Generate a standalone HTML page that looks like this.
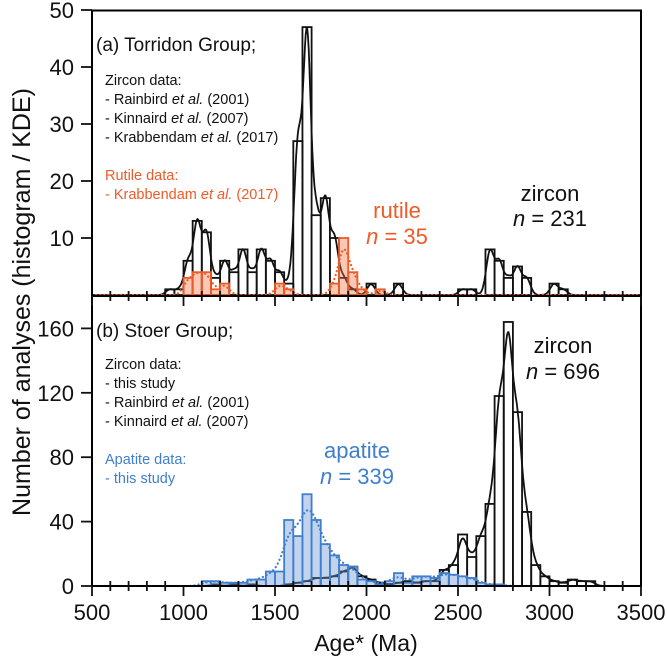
<!DOCTYPE html>
<html><head><meta charset="utf-8">
<style>
html,body{margin:0;padding:0;background:#fff;}
svg{display:block;font-family:"Liberation Sans",sans-serif;}
</style></head>
<body>
<svg id="chart" width="667" height="665" viewBox="0 0 667 665" xmlns="http://www.w3.org/2000/svg">
  <g id="marks"></g>
  <rect x="92" y="10.5" width="549" height="575.5" fill="none" stroke="#000" stroke-width="2"/>
  <line x1="92" y1="296" x2="641" y2="296" stroke="#000" stroke-width="2"/>
  <g id="axes"></g>
  <text transform="translate(30,302) rotate(-90)" text-anchor="middle" font-size="25" fill="#111">Number of analyses (histogram / KDE)</text>
  <text x="366" y="651" text-anchor="middle" font-size="23" fill="#111">Age* (Ma)</text>

  <g font-size="14.5" fill="#111">
    <text x="96" y="51" font-size="19">(a) Torridon Group;</text>
    <text x="105" y="85">Zircon data:</text>
    <text x="105" y="104">- Rainbird <tspan font-style="italic">et al.</tspan> (2001)</text>
    <text x="105" y="123">- Kinnaird <tspan font-style="italic">et al.</tspan> (2007)</text>
    <text x="105" y="142">- Krabbendam <tspan font-style="italic">et al.</tspan> (2017)</text>
    <text x="105" y="180" fill="#f05a28">Rutile data:</text>
    <text x="105" y="199" fill="#f05a28">- Krabbendam <tspan font-style="italic">et al.</tspan> (2017)</text>
  </g>
  <g font-size="14.5" fill="#111">
    <text x="96" y="337" font-size="19">(b) Stoer Group;</text>
    <text x="105" y="369">Zircon data:</text>
    <text x="105" y="388">- this study</text>
    <text x="105" y="407">- Rainbird <tspan font-style="italic">et al.</tspan> (2001)</text>
    <text x="105" y="426">- Kinnaird <tspan font-style="italic">et al.</tspan> (2007)</text>
    <text x="105" y="464" fill="#3f7fcf">Apatite data:</text>
    <text x="105" y="483" fill="#3f7fcf">- this study</text>
  </g>
  <g font-size="22" text-anchor="middle">
    <text x="397" y="218" fill="#f05a28">rutile</text>
    <text x="397" y="244" fill="#f05a28"><tspan font-style="italic">n</tspan> = 35</text>
    <text x="550" y="201" fill="#111">zircon</text>
    <text x="550" y="226" fill="#111"><tspan font-style="italic">n</tspan> = 231</text>
    <text x="563" y="353" fill="#111">zircon</text>
    <text x="563" y="379" fill="#111"><tspan font-style="italic">n</tspan> = 696</text>
    <text x="357" y="458" fill="#3f7fcf">apatite</text>
    <text x="357" y="484" fill="#3f7fcf"><tspan font-style="italic">n</tspan> = 339</text>
  </g>
</svg>
<script>
const binWidth = 50;
const zirconTopBins = [900,950,1000,1050,1100,1150,1200,1250,1300,1350,1400,1450,1500,1550,1600,1650,1700,1750,1800,1850,1900,2000,2150,2500,2550,2650,2700,2750,2800,2850,3000,3050];
const zirconTopCounts = [1,1,6,13,11,3,6,4,8,4,8,6,4,2,27,47,14,17,10,3,1,2,2,1,1,8,6,3,5,3,2,1];
const rutileBins = [1000,1050,1100,1150,1200,1500,1550,1800,1850,1900,1950,2050];
const rutileCounts = [3,4,4,1,2,2,1,2,10,4,1,1];
const zirconBotBins = [1150,1250,1350,1550,1600,1650,1700,1750,1800,1850,1900,1950,2000,2050,2100,2150,2200,2250,2300,2350,2400,2450,2500,2550,2600,2650,2700,2750,2800,2850,2900,2950,3000,3050,3100,3150,3200];
const zirconBotCounts = [1,1,1,1,2,3,5,5,6,9,12,6,4,2,1,2,3,2,3,3,10,13,32,18,31,51,118,164,108,46,13,6,3,2,4,3,3];
const apatiteBins = [1100,1150,1200,1250,1300,1350,1400,1450,1500,1550,1600,1650,1700,1750,1800,1850,1900,1950,2000,2050,2100,2150,2200,2250,2300,2350,2400,2450,2500,2550,2600,2650,2700];
const apatiteCounts = [3,3,2,2,2,4,4,9,9,41,31,57,41,26,19,13,12,4,3,1,3,8,2,6,6,5,8,7,6,5,2,1,1];
const xTicksMajor = [500,1000,1500,2000,2500,3000,3500];
const yTicksTop = [10,20,30,40,50];
const yTicksBot = [0,40,80,120,160];

const NS = "http://www.w3.org/2000/svg";
const xS = a => 92 + (a - 500) * 0.183;
const yTop = v => 295 - v * 5.7;
const yBot = v => 586 - v * 1.61;
const marks = document.getElementById('marks');
const axes = document.getElementById('axes');
function mk(tag, attrs, parent) {
  const e = document.createElementNS(NS, tag);
  for (const k in attrs) e.setAttribute(k, attrs[k]);
  parent.appendChild(e);
  return e;
}
function bars(bins, counts, ys, fill, stroke, name) {
  bins.forEach((b, i) => {
    const x0 = xS(b), x1 = xS(b + binWidth);
    const r = mk('rect', {x: x0, y: ys(counts[i]), width: x1 - x0, height: ys(0) - ys(counts[i]), fill: fill, stroke: stroke, 'stroke-width': 1.8}, marks);
    
    
  });
}
function kde(bins, counts, h, ys, stroke, dash, name, width) {
  let d = '';
  for (let a = 500; a <= 3500; a += 4) {
    let s = 0;
    bins.forEach((b, i) => {
      const c = b + binWidth / 2;
      s += counts[i] * Math.exp(-((a - c) ** 2) / (2 * h * h)) * binWidth / (h * Math.sqrt(2 * Math.PI));
    });
    d += (a === 500 ? 'M' : 'L') + xS(a).toFixed(1) + ',' + ys(s).toFixed(1);
  }
  const p = mk('path', {d: d, fill: 'none', stroke: stroke, 'stroke-width': width || 1.8}, marks);
  if (dash) { p.setAttribute('stroke-dasharray', dash); p.setAttribute('stroke-linecap', 'round'); }
  
  
}
// Panel a
bars(zirconTopBins, zirconTopCounts, yTop, 'none', '#111', 'zircon-a');
kde(zirconTopBins, zirconTopCounts, 21, yTop, '#111', null, 'zircon-a-kde');
bars(rutileBins, rutileCounts, yTop, 'rgba(243,120,70,0.4)', '#f05a28', 'rutile');
kde(rutileBins, rutileCounts, 28, yTop, '#f05a28', '0.1 4', 'rutile-kde', 2.2);
// Panel b
bars(zirconBotBins, zirconBotCounts, yBot, 'none', '#111', 'zircon-b');
kde(zirconBotBins, zirconBotCounts, 24, yBot, '#111', null, 'zircon-b-kde');
bars(apatiteBins, apatiteCounts, yBot, 'rgba(110,150,215,0.42)', '#3f7fcf', 'apatite');
kde(apatiteBins, apatiteCounts, 38, yBot, '#3f7fcf', '0.1 4', 'apatite-kde', 2.2);

// x ticks
for (let a = 500; a <= 3500; a += 100) {
  const major = xTicksMajor.includes(a);
  [296, 586].forEach(y0 => {
    const t = mk('line', {x1: xS(a), x2: xS(a), y1: major ? y0 : y0 - 5, y2: major ? y0 + 10 : y0 + 5, stroke: '#111', 'stroke-width': 1.8}, axes);
    
    
  });
}
xTicksMajor.forEach(a => {
  const t = mk('text', {x: xS(a), y: 620, 'text-anchor': 'middle', 'font-size': 22, fill: '#111'}, axes);
  t.textContent = a;
  
  
});
yTicksTop.forEach(v => {
  const l = mk('line', {x1: 81, x2: 92, y1: yTop(v), y2: yTop(v), stroke: '#111', 'stroke-width': 1.8}, axes);
  
  
  const t = mk('text', {x: 74, y: yTop(v) + 8, 'text-anchor': 'end', 'font-size': 22, fill: '#111'}, axes);
  t.textContent = v;
  
  
});
yTicksBot.forEach(v => {
  const l = mk('line', {x1: 81, x2: 92, y1: yBot(v), y2: yBot(v), stroke: '#111', 'stroke-width': 1.8}, axes);
  
  
  const t = mk('text', {x: 74, y: yBot(v) + 8, 'text-anchor': 'end', 'font-size': 22, fill: '#111'}, axes);
  t.textContent = v;
  
  
});
</script>
</body></html>
